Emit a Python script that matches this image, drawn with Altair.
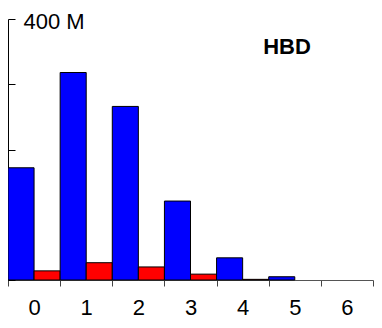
import altair as alt
import pandas as pd

categories = ["0", "1", "2", "3", "4", "5", "6"]
series_names = ["a", "b"]
series_colors = ["#0000ff", "#ff0000"]
blue_values = [172, 318, 266, 121, 34, 5, 0]
red_values = [14, 26.5, 20, 9, 1, 0, 0]
y_ticks = [0, 100, 200, 300, 400]

rows = []
for c, b, r in zip(categories, blue_values, red_values):
    rows.append({"cat": c, "series": "a", "value": b})
    rows.append({"cat": c, "series": "b", "value": r})
df = pd.DataFrame(rows)

W, H = 365, 261

bars = alt.Chart(df).transform_filter("datum.value > 0").mark_bar(
    stroke="black", strokeWidth=1
).encode(
    x=alt.X(
        "cat:N",
        sort=categories,
        scale=alt.Scale(domain=categories, paddingInner=0, paddingOuter=0),
        axis=alt.Axis(
            title=None, labelAngle=0, tickBand="extent", tickSize=6,
            tickColor="#444444", domainColor="#555555", labelFontSize=22,
            labelFont="Liberation Sans", labelColor="black", labelPadding=11,
            grid=False,
        ),
    ),
    xOffset=alt.XOffset(
        "series:N", sort=series_names,
        scale=alt.Scale(domain=series_names, paddingInner=0, paddingOuter=0),
    ),
    y=alt.Y(
        "value:Q",
        scale=alt.Scale(domain=[0, 400], nice=False),
        axis=alt.Axis(
            orient="right", offset=-W, values=y_ticks, title=None, grid=False,
            labelExpr="datum.value == 400 ? '400 M' : ''",
            tickSize=7, tickColor="black", domainColor="black",
            labelFontSize=22, labelFont="Liberation Sans", labelColor="black",
            labelPadding=8, labelFlush=False, labelOverlap=False, labelOffset=2,
        ),
    ),
    color=alt.Color(
        "series:N",
        scale=alt.Scale(domain=series_names, range=series_colors),
        legend=None,
    ),
)

label = alt.Chart(pd.DataFrame({"t": ["HBD"]})).mark_text(
    fontSize=22, fontWeight="bold", font="Liberation Sans", color="black",
    align="center", baseline="middle",
).encode(text="t:N", x=alt.value(279), y=alt.value(28))

chart = alt.layer(bars, label).properties(
    width=W, height=H,
    padding={"left": 0, "top": 11, "right": 1, "bottom": 40},
    autosize=alt.AutoSizeParams(type="none"),
).configure_view(stroke=None)

chart.save("out.html", embed_options={"renderer": "svg", "actions": False})
